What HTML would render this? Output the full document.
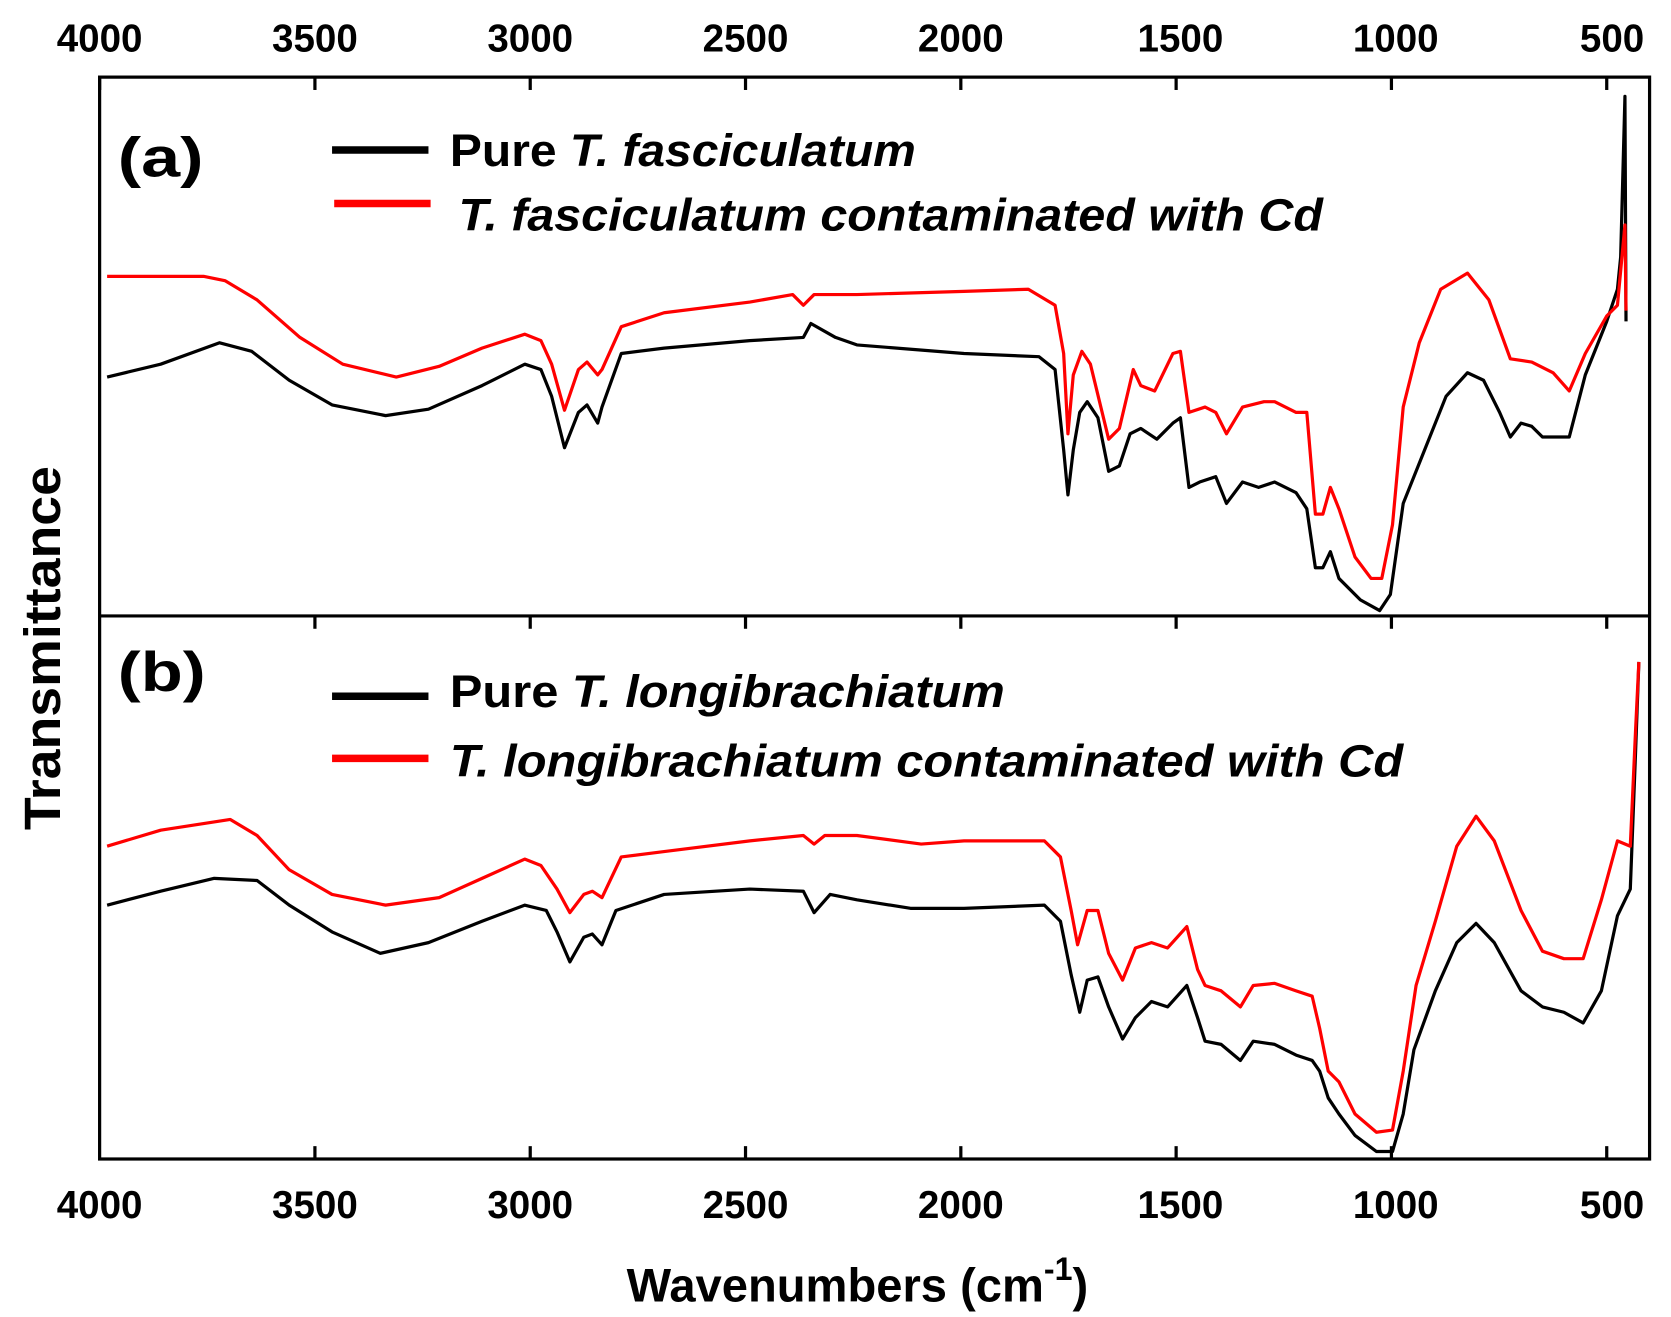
<!DOCTYPE html>
<html><head><meta charset="utf-8"><style>html,body{margin:0;padding:0;background:#fff}svg{display:block}</style></head>
<body>
<svg width="1671" height="1317" viewBox="0 0 1560 1229.5" preserveAspectRatio="none" xmlns="http://www.w3.org/2000/svg" font-family="Liberation Sans, sans-serif" font-weight="bold">
<rect width="1560" height="1230" fill="#fff"/>
<g stroke="#000" stroke-width="3" fill="none">
<rect x="93" y="72" width="1447" height="1010"/>
<line x1="93" y1="575" x2="1540" y2="575"/>
</g>
<g stroke="#000" stroke-width="3">
<line x1="93" y1="72" x2="93" y2="84"/><line x1="294" y1="72" x2="294" y2="84"/><line x1="495" y1="72" x2="495" y2="84"/><line x1="696" y1="72" x2="696" y2="84"/><line x1="897" y1="72" x2="897" y2="84"/><line x1="1098" y1="72" x2="1098" y2="84"/><line x1="1299" y1="72" x2="1299" y2="84"/><line x1="1500" y1="72" x2="1500" y2="84"/>
<line x1="294" y1="575" x2="294" y2="587"/><line x1="495" y1="575" x2="495" y2="587"/><line x1="696" y1="575" x2="696" y2="587"/><line x1="897" y1="575" x2="897" y2="587"/><line x1="1098" y1="575" x2="1098" y2="587"/><line x1="1299" y1="575" x2="1299" y2="587"/><line x1="1500" y1="575" x2="1500" y2="587"/>
<line x1="294" y1="1082" x2="294" y2="1070"/><line x1="495" y1="1082" x2="495" y2="1070"/><line x1="696" y1="1082" x2="696" y2="1070"/><line x1="897" y1="1082" x2="897" y2="1070"/><line x1="1098" y1="1082" x2="1098" y2="1070"/><line x1="1299" y1="1082" x2="1299" y2="1070"/><line x1="1500" y1="1082" x2="1500" y2="1070"/>
</g>
<g font-size="36" text-anchor="middle">
<text x="93" y="48">4000</text><text x="294" y="48">3500</text><text x="495" y="48">3000</text><text x="696" y="48">2500</text><text x="897" y="48">2000</text><text x="1102" y="48">1500</text><text x="1303" y="48">1000</text><text x="1505" y="48">500</text>
<text x="93" y="1137">4000</text><text x="294" y="1137">3500</text><text x="495" y="1137">3000</text><text x="696" y="1137">2500</text><text x="897" y="1137">2000</text><text x="1102" y="1137">1500</text><text x="1303" y="1137">1000</text><text x="1505" y="1137">500</text>
</g>
<text x="585" y="1215" font-size="44">Wavenumbers (cm<tspan dy="-20" font-size="30">-1</tspan><tspan dy="20">)</tspan></text>
<text transform="translate(56,605) rotate(-90)" text-anchor="middle" font-size="48" textLength="340" lengthAdjust="spacingAndGlyphs">Transmittance</text>
<g font-family="Liberation Sans, sans-serif" font-weight="bold">
<text x="110" y="165" font-size="52" textLength="80" lengthAdjust="spacingAndGlyphs">(a)</text>
<text x="110" y="645" font-size="52" textLength="82" lengthAdjust="spacingAndGlyphs">(b)</text>
</g>
<line x1="310" y1="140" x2="400" y2="140" stroke="#000" stroke-width="7"/>
<line x1="312" y1="190" x2="402" y2="190" stroke="#f00" stroke-width="7"/>
<line x1="310" y1="650" x2="400" y2="650" stroke="#000" stroke-width="7"/>
<line x1="310" y1="708" x2="400" y2="708" stroke="#f00" stroke-width="7"/>
<g font-size="42" font-weight="bold" fill="#000">
<text x="420" y="155" textLength="435" lengthAdjust="spacingAndGlyphs">Pure <tspan font-style="italic">T. fasciculatum</tspan></text>
<text x="428" y="215" font-style="italic" textLength="807" lengthAdjust="spacingAndGlyphs">T. fasciculatum contaminated with Cd</text>
<text x="420" y="660" textLength="518" lengthAdjust="spacingAndGlyphs">Pure <tspan font-style="italic">T. longibrachiatum</tspan></text>
<text x="420" y="725" font-style="italic" textLength="890" lengthAdjust="spacingAndGlyphs">T. longibrachiatum contaminated with Cd</text>
</g>
<g fill="none" stroke-width="3" stroke-linejoin="round">
<polyline stroke="#000" points="100,352 150,340 205,320 235,328 270,355 310,378 360,388 400,382 450,360 490,340 505,345 515,370 527,418 540,385 548,378 558,395 562,380 580,330 620,325 700,318 750,315 757,302 780,315 800,322 900,330 970,333 985,345 993,420 997,462 1002,420 1008,385 1015,375 1025,390 1035,440 1045,435 1055,405 1065,400 1080,410 1095,395 1102,390 1110,455 1120,450 1135,445 1145,470 1160,450 1175,455 1190,450 1210,460 1220,475 1228,530 1235,530 1242,515 1250,540 1270,560 1288,570 1298,555 1310,470 1330,420 1350,370 1370,348 1385,355 1400,385 1410,408 1420,395 1430,398 1440,408 1465,408 1480,350 1500,300 1510,270 1513,240 1517,90 1518,300"/>
<polyline stroke="#f00" points="100,258 190,258 210,262 240,280 280,315 320,340 370,352 410,342 450,325 490,312 505,318 515,340 527,383 540,345 548,338 558,350 562,345 580,305 620,292 700,282 740,275 750,285 760,275 800,275 900,272 960,270 985,285 993,330 997,405 1002,350 1010,328 1018,340 1035,410 1045,400 1058,345 1065,360 1078,365 1095,330 1102,328 1110,385 1125,380 1135,385 1145,405 1160,380 1180,375 1190,375 1210,385 1220,385 1228,480 1235,480 1242,455 1250,475 1265,520 1280,540 1290,540 1300,490 1310,380 1325,320 1345,270 1370,255 1390,280 1410,335 1430,338 1450,348 1465,365 1480,330 1500,295 1510,285 1517,210 1518,290"/>
<polyline stroke="#000" points="100,845 150,832 200,820 240,822 270,845 310,870 355,890 400,880 450,860 490,845 510,850 520,870 532,898 545,875 553,872 562,882 575,850 620,835 700,830 750,832 760,852 775,835 800,840 850,848 900,848 975,845 990,860 1000,910 1008,945 1015,915 1025,912 1035,940 1048,970 1060,950 1075,935 1090,940 1108,920 1118,950 1125,972 1140,975 1158,990 1170,972 1190,975 1210,985 1225,990 1232,1000 1240,1025 1250,1040 1265,1060 1285,1075 1300,1075 1310,1040 1320,980 1340,925 1360,880 1378,862 1395,880 1420,925 1440,940 1460,945 1478,955 1495,925 1510,855 1522,830 1527,700 1530,618"/>
<polyline stroke="#f00" points="100,790 150,775 215,765 240,780 270,812 310,835 360,845 410,838 450,820 490,802 505,808 520,830 532,852 545,835 553,832 562,838 580,800 620,795 700,785 750,780 760,788 770,780 800,780 860,788 900,785 975,785 990,800 1000,850 1006,882 1015,850 1025,850 1035,890 1048,915 1060,885 1075,880 1090,885 1108,865 1118,905 1125,920 1140,925 1158,940 1170,920 1190,918 1210,925 1225,930 1232,960 1240,1000 1250,1010 1265,1040 1285,1057 1300,1055 1310,1000 1322,920 1340,860 1360,790 1378,762 1395,785 1420,850 1440,888 1460,895 1478,895 1495,840 1510,785 1522,790 1527,680 1530,618"/>
</g>
</svg>
</body></html>
